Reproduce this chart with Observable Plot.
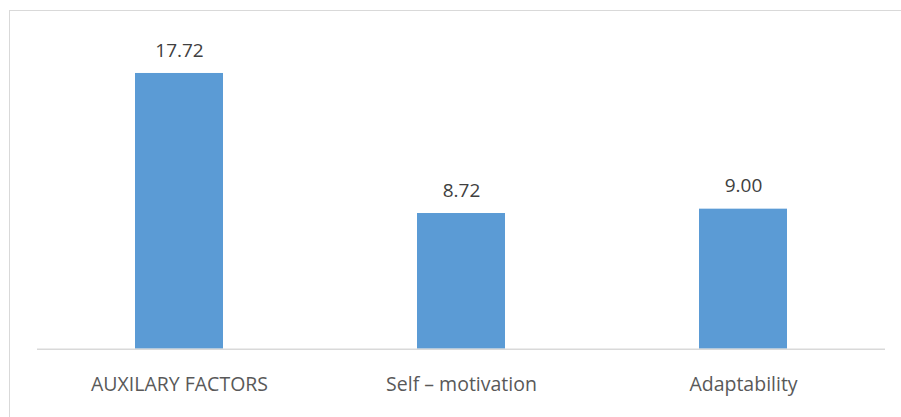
<!DOCTYPE html>
<html>
<head>
<meta charset="utf-8">
<script src="https://cdn.jsdelivr.net/npm/d3@7"></script>
<script src="https://cdn.jsdelivr.net/npm/@observablehq/plot@0.6"></script>
<style>
  html, body { margin: 0; padding: 0; background: #fff; overflow: hidden; }
  #frame { position: absolute; left: 9px; top: 10px; width: 1000px; height: 500px;
           border-left: 1.5px solid #d9d9d9; border-top: 1.5px solid #d9d9d9; box-sizing: border-box; }
  #chart { position: absolute; left: 0; top: 0; }
</style>
</head>
<body>
<div id="frame"></div>
<div id="chart"></div>
<script>
const categories = ["AUXILARY FACTORS", "Self – motivation", "Adaptability"];
const values = [17.72, 8.72, 9.00];
const valueLabels = ["17.72", "8.72", "9.00"];

const data = categories.map((c, i) => ({category: c, value: values[i], label: valueLabels[i]}));

const font = "'Open Sans', sans-serif";
const plot = Plot.plot({
  width: 901,
  height: 417,
  marginLeft: 37,
  marginRight: 16,
  marginTop: 37.5,
  marginBottom: 68.3,
  style: {fontFamily: font, fontSize: "16px", color: "#595959", background: "transparent", overflow: "visible"},
  x: {domain: categories, paddingInner: 0.689, paddingOuter: 0.3445, align: 0.5, label: null},
  y: {domain: [0, 20], axis: null},
  marks: [
    Plot.barY(data, {x: "category", y: "value", fill: "#5b9bd5"}),
    Plot.ruleY([0], {stroke: "#d9d9d9", strokeWidth: 1.5}),
    Plot.text(data, {x: "category", y: "value", text: "label", dy: -23, fill: "#404040", fontSize: 19}),
    Plot.axisX({tickSize: 0, tickPadding: 28, fontSize: 19.5, fill: "#595959", label: null})
  ]
});
document.getElementById("chart").appendChild(plot);
</script>
</body>
</html>
